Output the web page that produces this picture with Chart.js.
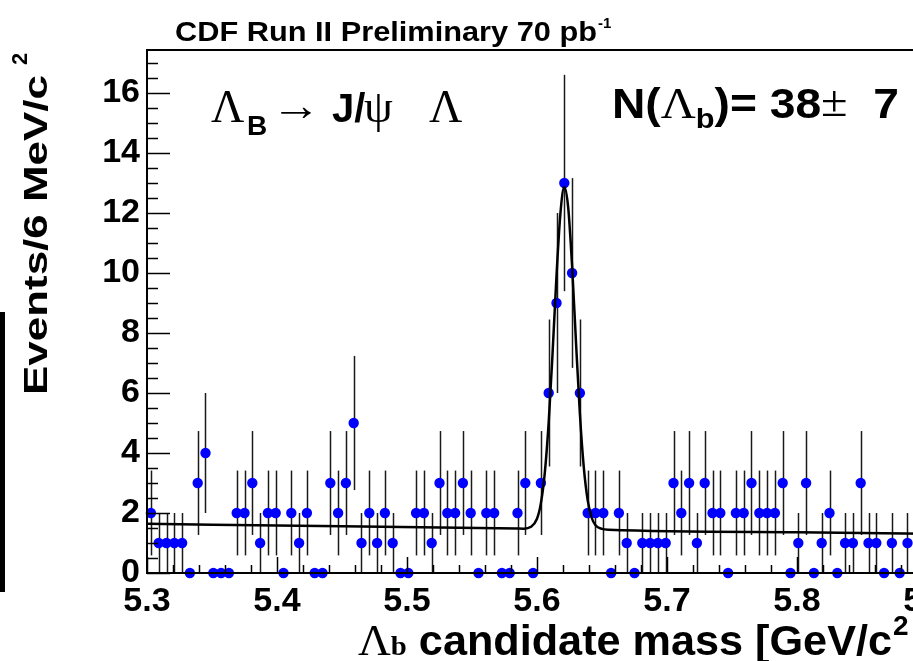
<!DOCTYPE html>
<html><head><meta charset="utf-8">
<script src="https://cdn.jsdelivr.net/npm/chart.js@4.4.0/dist/chart.umd.min.js"></script>
<style>
html,body{margin:0;padding:0;background:#fff;overflow:hidden;width:913px;height:661px}
#wrap{position:absolute;left:0;top:0;width:1000px;height:661px}
</style>
</head><body><div id="wrap"><canvas id="c" width="1000" height="661"></canvas></div>
<script>
// ---- data ----
const counts = [2,1,1,1,1,0,3,4,0,0, 0,2,2,3,1,2,2,0,2,1,
                2,0,0,3,2,3,5,1,2,1, 2,1,0,0,2,2,1,3,2,2,
                3,2,0,2,2,0,0,2,3,0, 3,6,9,13,10,6,2,2,2,0,
                2,1,0,1,1,1,1,3,2,3, 1,3,2,2,0,2,2,3,2,2,
                2,3,0,1,3,0,1,2,0,1, 1,3,1,1,0,1,0,1];
const binStart = 5.300;          // GeV/c^2
const binWidth = 0.006;          // 6 MeV/c^2
const massCenters = counts.map((_, i) => +(binStart + binWidth * (i + 0.5)).toFixed(4));
// fitted curve (Gaussian + linear background)
const fitCurve = [[5.300,1.64],[5.450,1.556],[5.585,1.480],[5.590,1.478],[5.595,1.53],
  [5.600,1.81],[5.603,2.33],[5.606,3.34],[5.609,5.03],[5.612,7.35],[5.615,9.91],
  [5.618,11.98],[5.621,12.87],[5.624,12.18],[5.627,10.23],[5.630,7.69],[5.633,5.30],
  [5.636,3.52],[5.639,2.42],[5.642,1.85],[5.645,1.59],[5.650,1.47],[5.655,1.441],
  [5.800,1.36],[5.950,1.276]];
const xTicks = [5.3,5.4,5.5,5.6,5.7,5.8,5.9];
const yTicks = [0,2,4,6,8,10,12,14,16];
const titleText = 'CDF Run II Preliminary 70 pb';
const yieldValue = '38', yieldError = '7';

const SANS = "'Liberation Sans', Arial, Helvetica, sans-serif";
const SERIF = "'Liberation Serif', 'Times New Roman', serif";

function segWidth(ctx, segs) {
  let w = 0;
  for (const s of segs) { ctx.font = s.font; w += s.w || ctx.measureText(s.t).width; }
  return w;
}
function drawSegs(ctx, x0, y0, segs) {
  let x = x0;
  for (const s of segs) {
    if (s.x !== undefined) x = s.x;
    ctx.font = s.font;
    ctx.textBaseline = 'alphabetic';
    ctx.textAlign = 'left';
    const w = ctx.measureText(s.t).width;
    if (s.w) {
      ctx.save();
      ctx.translate(x, y0 + (s.dy || 0));
      ctx.scale(s.w / w, 1);
      ctx.fillText(s.t, 0, 0);
      ctx.restore();
      x += s.w;
    } else {
      ctx.fillText(s.t, x, y0 + (s.dy || 0));
      x += w;
    }
  }
  return x;
}
// draw a run of segments horizontally scaled to a target total width
function drawFit(ctx, x0, y0, segs, total) {
  const w = segWidth(ctx, segs);
  ctx.save();
  ctx.translate(x0, y0);
  ctx.scale(total / w, 1);
  drawSegs(ctx, 0, 0, segs);
  ctx.restore();
  return x0 + total;
}

const rootPlugin = {
  id: 'rootStyle',
  beforeDatasetsDraw(chart) {
    const {ctx, chartArea: a, scales: {x, y}} = chart;
    ctx.save();
    ctx.beginPath(); ctx.rect(a.left, a.top, a.right - a.left, a.bottom - a.top); ctx.clip();
    ctx.strokeStyle = '#1a1a1a'; ctx.lineWidth = 1.5;
    counts.forEach((n, i) => {
      if (n <= 0) return;
      const e = Math.sqrt(n);
      const px = Math.round(x.getPixelForValue(massCenters[i])) + 0.5;
      ctx.beginPath();
      ctx.moveTo(px, y.getPixelForValue(n - e));
      ctx.lineTo(px, y.getPixelForValue(n + e));
      ctx.stroke();
    });
    ctx.restore();
  },
  afterDraw(chart) {
    const {ctx, chartArea: a, scales: {x, y}} = chart;
    ctx.save();
    ctx.fillStyle = '#000'; ctx.strokeStyle = '#000';
    // ticks (inside)
    ctx.lineWidth = 1.5;
    for (let v = 0; v <= 17.4; v += 0.5) {
      const py = Math.round(y.getPixelForValue(v)) + 0.5;
      const major = Math.abs(v / 2 - Math.round(v / 2)) < 1e-6;
      ctx.beginPath(); ctx.moveTo(a.left, py); ctx.lineTo(a.left + (major ? 23 : 11), py); ctx.stroke();
    }
    for (let k = 0; k <= 33; k++) {
      const v = 5.3 + k * 0.02;
      const px = Math.round(x.getPixelForValue(v)) + 0.5;
      const major = k % 5 === 0;
      ctx.beginPath(); ctx.moveTo(px, a.bottom); ctx.lineTo(px, a.bottom - (major ? 16 : 8)); ctx.stroke();
    }
    // frame
    ctx.lineWidth = 2;
    ctx.strokeRect(a.left, a.top, a.right - a.left, a.bottom - a.top);
    // title
    const tx = drawFit(ctx, 175, 41, [{t: titleText, font: `bold 28px ${SANS}`}], 422);
    drawSegs(ctx, tx + 1, 28, [{t: '-1', font: `bold 15px ${SANS}`}]);
    // decay label
    drawSegs(ctx, 212, 122, [
      {t: 'Λ', font: `46px ${SERIF}`, x: 211},
      {t: 'B', font: `bold 28px ${SANS}`, x: 247, dy: 13},
      {t: '→', font: `bold 44px ${SERIF}`, x: 271, w: 50, dy: -2},
      {t: 'J/', font: `bold 40px ${SANS}`, x: 332},
      {t: 'ψ', font: `46px ${SERIF}`, x: 364},
      {t: 'Λ', font: `46px ${SERIF}`, x: 429}
    ]);
    // yield label
    drawFit(ctx, 612, 118, [
      {t: 'N(', font: `bold 42px ${SANS}`},
      {t: 'Λ', font: `44px ${SERIF}`},
      {t: 'b', font: `bold 28px ${SANS}`, dy: 10},
      {t: ')= ' + yieldValue, font: `bold 42px ${SANS}`},
      {t: '±', font: `44px ${SERIF}`, dy: -2},
      {t: '  ' + yieldError, font: `bold 42px ${SANS}`}
    ], 287);
    // x-axis title (right end runs past the visible edge)
    const xe = drawFit(ctx, 358, 655, [
      {t: 'Λ', font: `44px ${SERIF}`},
      {t: 'b', font: `bold 28px ${SERIF}`},
      {t: ' candidate mass [GeV/c', font: `bold 42px ${SANS}`}
    ], 534);
    drawSegs(ctx, xe + 1, 635, [{t: '2', font: `bold 28px ${SANS}`}]);
    drawSegs(ctx, xe + 26, 655, [{t: ']', font: `bold 42px ${SANS}`}]);
    // y-axis title (rotated)
    ctx.save();
    ctx.translate(47, 395);
    ctx.rotate(-Math.PI / 2);
    const ex = drawFit(ctx, 0, 0, [{t: 'Events/6 MeV/c', font: `bold 34px ${SANS}`}], 320);
    drawSegs(ctx, ex + 10, -20, [{t: '2', font: `bold 22px ${SANS}`}]);
    ctx.restore();
    // stray bar at the left edge
    ctx.fillRect(0, 312, 5, 280);
    ctx.restore();
  }
};

new Chart(document.getElementById('c'), {
  type: 'scatter',
  data: {
    datasets: [
      {type: 'line', data: fitCurve.map(([m, v]) => ({x: m, y: v})), borderColor: '#000',
       borderWidth: 2.5, pointRadius: 0, cubicInterpolationMode: 'monotone', fill: false, order: 0},
      {type: 'scatter', data: massCenters.map((m, i) => ({x: m, y: counts[i]})),
       backgroundColor: '#0000ff', borderWidth: 0, pointRadius: 5.2, clip: false, order: 1}
    ]
  },
  options: {
    responsive: false, animation: false, devicePixelRatio: 1,
    layout: {padding: {left: 0, right: 8, top: 50, bottom: 0}},
    plugins: {legend: {display: false}, tooltip: {enabled: false}},
    scales: {
      x: {type: 'linear', min: 5.3, max: 5.95,
          grid: {display: false, drawTicks: false}, border: {display: false},
          afterBuildTicks: s => { s.ticks = xTicks.map(v => ({value: v})); },
          afterFit: s => { s.height = 88; },
          ticks: {font: {family: SANS, size: 34, weight: 'bold'}, color: '#000', padding: 8,
                  maxRotation: 0, autoSkip: false, callback: v => v.toFixed(1)}},
      y: {type: 'linear', min: 0, max: 17.433,
          grid: {display: false, drawTicks: false}, border: {display: false},
          afterBuildTicks: s => { s.ticks = yTicks.map(v => ({value: v})); },
          afterFit: s => { s.width = 147; },
          ticks: {font: {family: SANS, size: 34, weight: 'bold'}, color: '#000', padding: 7,
                  autoSkip: false, callback: v => String(v)}}
    }
  },
  plugins: [rootPlugin]
});
</script>
</body></html>
